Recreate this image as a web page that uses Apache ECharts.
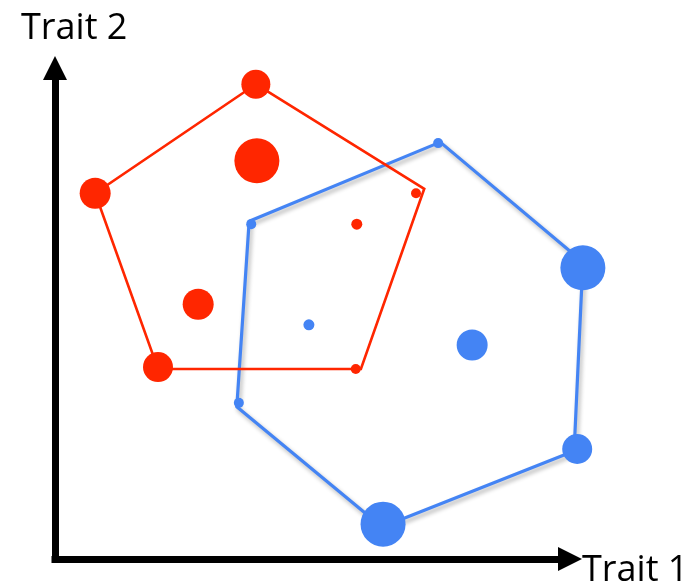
<!DOCTYPE html>
<html>
<head>
<meta charset="utf-8">
<title>Trait space</title>
<script src="https://cdn.jsdelivr.net/npm/echarts@6/dist/echarts.min.js"></script>
<style>
  html, body { margin: 0; padding: 0; background: #fff; }
  #main { width: 699px; height: 585px; }
</style>
</head>
<body>
<div id="main"></div>
<script>
// axis titles
var xName = 'Trait 1';
var yName = 'Trait 2';

// red group: hull corners and species [trait1, trait2, size]
var redHull = [[39.0, 96.7], [71.7, 75.4], [59.4, 38.7], [20.0, 38.7], [7.8, 74.5]];
var redPoints = [
  [39.0, 96.7, 29], [39.2, 81.1, 45], [7.8, 74.5, 31], [70.1, 74.5, 10],
  [58.6, 68.2, 11], [27.8, 51.9, 31], [20.0, 39.1, 30], [58.4, 38.7, 10]
];

// blue group
var blueHull = [[74.8, 84.9], [102.5, 60.5], [100.8, 22.0], [63.5, 6.5], [35.3, 31.0], [37.7, 68.8]];
var bluePoints = [
  [74.4, 84.7, 10], [38.1, 68.2, 10], [102.5, 59.3, 45], [49.3, 47.7, 11],
  [81.0, 43.6, 31], [35.7, 31.8, 10], [101.4, 22.4, 30], [63.7, 7.1, 45]
];

var red = '#ff2600';
var blue = '#4484f4';

function closeLoop(arr) {
  return arr.concat([arr[0]]);
}

// outline of a group, drawn once through the grid's scales
function hullSeries(hull, style) {
  return {
    type: 'custom',
    data: hull,
    clip: false,
    silent: true,
    renderItem: function (params, api) {
      if (params.dataIndex !== 0) return null;
      var pts = closeLoop(hull).map(function (p) { return api.coord(p); });
      return { type: 'polyline', shape: { points: pts }, style: style };
    }
  };
}

var chart = echarts.init(document.getElementById('main'));

var axisCommon = {
  type: 'value',
  min: 0,
  max: 100,
  axisTick: { show: false },
  axisLabel: { show: false },
  splitLine: { show: false },
  axisLine: {
    show: true,
    onZero: false,
    symbol: ['none', 'triangle'],
    symbolSize: [24, 24],
    lineStyle: { color: '#000', width: 7, cap: 'square' }
  }
};

var option = {
  animation: false,
  backgroundColor: '#fff',
  grid: { left: 55, right: 129, top: 68, bottom: 26 },
  xAxis: axisCommon,
  yAxis: axisCommon,
  graphic: [
    {
      type: 'text', left: 21, top: 11,
      style: { text: yName, font: '36px "Open Sans"', fill: '#000' }
    },
    {
      type: 'text', left: 582, top: 553,
      style: { text: xName, font: '36px "Open Sans"', fill: '#000' }
    }
  ],
  series: [
    hullSeries(blueHull, {
      stroke: blue, fill: null, lineWidth: 3.2, lineJoin: 'round',
      shadowColor: 'rgba(0,0,0,0.3)', shadowBlur: 4,
      shadowOffsetX: 2, shadowOffsetY: 3
    }),
    hullSeries(redHull, { stroke: red, fill: null, lineWidth: 2.6, lineJoin: 'miter' }),
    {
      type: 'scatter',
      data: redPoints,
      clip: false,
      symbolSize: function (v) { return v[2]; },
      itemStyle: { color: red, opacity: 1 }
    },
    {
      type: 'scatter',
      data: bluePoints,
      clip: false,
      symbolSize: function (v) { return v[2]; },
      itemStyle: { color: blue, opacity: 1 }
    }
  ]
};

chart.setOption(option);
</script>
</body>
</html>
